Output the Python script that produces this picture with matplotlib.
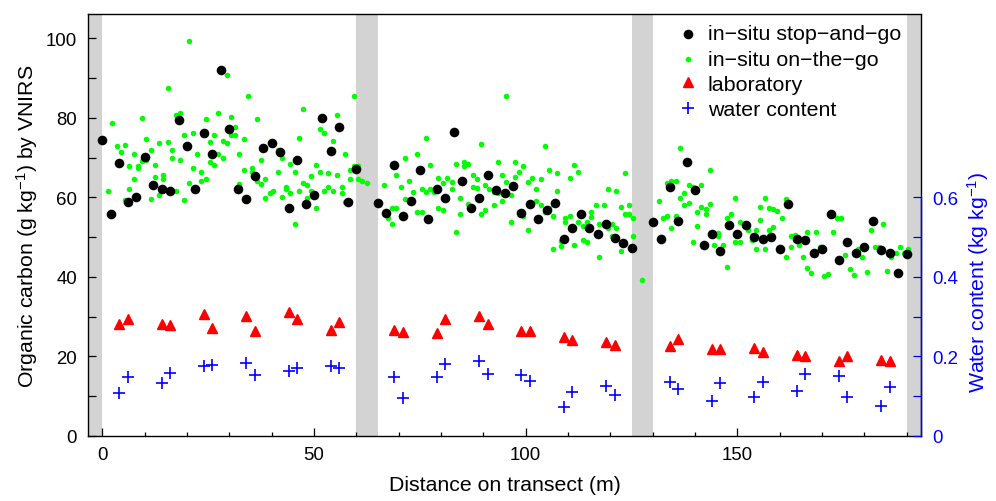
import matplotlib
matplotlib.use("Agg")
import matplotlib.pyplot as plt
from matplotlib.ticker import MultipleLocator, FixedLocator

plt.rcParams['font.family'] = ['Liberation Sans', 'DejaVu Sans']
plt.rcParams['mathtext.fontset'] = 'custom'
plt.rcParams['mathtext.rm'] = 'Liberation Sans'
plt.rcParams['mathtext.it'] = 'Liberation Sans:italic'
plt.rcParams['mathtext.default'] = 'regular'
plt.rcParams['axes.unicode_minus'] = True

# ---- in-situ stop-and-go readings (every 2 m on three transect sections) ----
sg_x = list(range(0, 61, 2)) + list(range(65, 126, 2)) + list(range(130, 191, 2))
sg_y = [74.4, 55.8, 68.6, 58.8, 60.2, 70.1, 63.1, 62.1, 61.6, 79.4, 72.9, 62.1, 76.1, 70.8,
        92.0, 77.2, 62.1, 59.6, 65.3, 72.4, 73.6, 71.4, 57.3, 69.5, 58.3, 60.6, 79.9, 71.6,
        77.6, 58.8, 67.2,
        58.5, 56.0, 68.1, 55.4, 59.0, 66.8, 54.5, 62.2, 59.8, 76.4, 64.1, 57.3, 59.8, 65.7,
        61.8, 61.2, 62.9, 56.0, 58.3, 54.5, 56.7, 58.5, 49.6, 52.4, 55.8, 52.4, 50.7, 53.3,
        49.9, 48.5, 47.2,
        53.7, 49.5, 62.7, 54.0, 68.8, 61.8, 48.1, 50.7, 46.4, 53.0, 50.7, 53.0, 50.1, 49.6,
        50.1, 47.1, 58.3, 49.5, 49.2, 46.0, 47.1, 55.9, 44.2, 48.9, 45.9, 47.6, 54.0, 46.8,
        46.1, 41.1, 45.7]

# ---- in-situ on-the-go readings ----
otg_x = [1.4, 2.4, 3.4, 4.4, 5.4, 5.4, 6.4, 6.4, 7.4, 7.4, 8.4, 8.4, 9.4, 9.4, 10.4, 10.4,
         11.4, 11.4, 12.4, 12.4, 13.4, 13.4, 14.4, 14.4, 15.4, 15.4, 16.4, 16.4, 17.4, 17.4,
         18.4, 18.4, 19.4, 19.4, 20.4, 20.4, 21.4, 21.4, 22.4, 23.4, 23.4, 24.4, 24.4, 25.4,
         25.4, 26.4, 26.4, 27.4, 27.4, 28.4, 28.4, 29.4, 29.4, 30.4, 30.4, 31.4, 31.4, 32.4,
         32.4, 33.4, 33.4, 34.4, 34.4, 35.4, 35.4, 36.5, 36.5, 37.4, 37.4, 38.4, 38.4, 39.5,
         39.5, 40.4, 41.4, 41.4, 42.4, 42.4, 43.4, 43.4, 44.4, 44.4, 45.4, 45.4, 46.5, 46.5,
         47.4, 47.4, 48.4, 48.4, 49.4, 49.4, 50.5, 50.5, 51.4, 51.4, 52.4, 52.4, 53.4, 53.4,
         54.4, 54.4, 55.4, 55.4, 56.5, 56.5, 57.4, 57.4, 58.4, 58.4, 59.5, 59.5, 60.5, 60.5,
         61.4, 62.4,
         66.5, 67.4, 68.4, 68.4, 69.4, 69.4, 70.5, 71.4, 71.4, 72.4, 73.5, 74.4, 74.4, 75.4,
         75.4, 76.4, 76.4, 77.4, 77.4, 78.4, 79.4, 79.4, 80.4, 80.4, 81.4, 82.5, 82.5, 83.5,
         83.5, 84.4, 84.4, 85.4, 85.4, 86.4, 86.4, 87.5, 87.5, 88.4, 88.4, 89.5, 89.5, 90.5,
         90.5, 91.4, 92.4, 92.4, 93.5, 93.5, 94.5, 94.5, 95.4, 95.4, 96.5, 96.5, 97.4, 97.4,
         98.4, 98.4, 99.4, 99.4, 100.5, 100.5, 101.4, 101.4, 102.4, 102.4, 103.5, 103.5,
         104.5, 104.5, 105.4, 105.4, 106.5, 106.5, 107.5, 107.5, 108.4, 108.4, 109.4, 109.4,
         110.5, 110.5, 111.4, 111.4, 112.4, 112.4, 113.5, 113.5, 114.5, 114.5, 115.4, 115.4,
         116.5, 117.4, 117.4, 118.4, 119.4, 119.4, 120.5, 120.5, 121.4, 121.4, 122.4, 122.4,
         123.5, 123.5, 124.5, 124.5, 125.4, 125.4, 127.5,
         131.4, 132.5, 133.4, 133.4, 134.4, 134.4, 135.4, 135.4, 136.5, 136.5, 137.5, 137.5,
         138.5, 138.5, 139.5, 139.5, 140.5, 140.5, 141.4, 141.4, 142.5, 142.5, 143.5, 143.5,
         144.5, 145.5, 145.5, 146.5, 147.5, 147.5, 148.5, 149.5, 149.5, 150.6, 150.6, 151.6,
         152.5, 153.4, 154.4, 154.4, 155.4, 155.4, 156.5, 156.5, 157.4, 157.4, 158.5, 158.5,
         159.4, 160.5, 161.5, 161.5, 162.6, 162.6, 163.5, 164.5, 165.5, 166.5, 166.5, 167.5,
         168.5, 169.5, 170.5, 171.5, 172.5, 173.5, 174.4, 175.4, 176.5, 177.5, 178.4, 179.5,
         180.5, 181.5, 182.4, 183.4, 184.4, 185.4, 186.4, 187.5, 188.4, 189.4, 190.4]
otg_y = [61.6, 78.8, 73.0, 71.5, 73.1, 59.3, 68.0, 62.2, 70.8, 64.7, 67.8, 67.3, 79.9, 69.2,
         74.6, 69.4, 71.8, 59.5, 68.2, 65.2, 73.6, 60.7, 65.6, 64.5, 87.6, 73.8, 72.0, 69.8,
         80.6, 61.6, 81.1, 69.3, 75.8, 59.3, 99.2, 63.7, 76.1, 67.3, 70.8, 66.5, 64.2, 79.6,
         64.7, 73.8, 68.8, 75.8, 68.1, 81.1, 71.0, 74.1, 70.0, 90.7, 73.6, 80.3, 75.6, 77.8,
         75.6, 71.0, 63.3, 74.6, 66.8, 85.6, 59.9, 67.5, 66.3, 79.8, 64.2, 69.5, 63.3, 64.5,
         59.9, 73.8, 61.2, 61.6, 71.8, 66.3, 69.8, 60.2, 62.7, 62.2, 68.5, 61.0, 66.5, 53.4,
         74.8, 61.7, 82.1, 63.6, 63.1, 59.9, 65.4, 61.7, 68.2, 57.4, 77.1, 66.3, 76.3, 61.5,
         66.0, 62.7, 74.1, 61.7, 80.8, 65.6, 62.5, 61.2, 71.0, 58.9, 67.0, 64.7, 85.6, 67.8,
         67.8, 64.7, 64.2, 63.7,
         63.2, 54.7, 53.4, 57.4, 65.7, 57.2, 62.6, 69.8, 59.5, 64.2, 61.4, 71.0, 56.3, 62.2,
         56.4, 74.8, 61.4, 68.1, 62.0, 61.4, 64.9, 57.4, 63.6, 56.9, 64.9, 63.9, 62.0, 68.5,
         51.4, 59.9, 55.7, 68.9, 67.9, 68.5, 58.4, 65.7, 62.6, 64.5, 62.3, 73.3, 55.7, 63.2,
         56.7, 62.2, 61.4, 58.2, 68.8, 61.2, 65.7, 59.2, 85.4, 63.9, 60.7, 53.9, 68.9, 65.2,
         66.5, 56.4, 67.8, 55.2, 63.8, 51.7, 64.9, 58.4, 62.2, 59.1, 64.5, 58.0,
         72.8, 56.2, 66.8, 57.2, 55.2, 46.9, 66.0, 61.7, 49.1, 47.8, 54.7, 53.9,
         64.9, 55.4, 68.2, 47.9, 66.3, 53.7, 52.7, 49.4, 53.9, 48.9, 56.2, 55.0,
         58.0, 45.1, 53.2, 58.0, 62.0, 52.4, 53.4, 50.4, 61.7, 52.4, 57.6, 46.6,
         66.0, 55.7, 58.0, 55.8, 54.7, 50.4, 39.3,
         59.2, 54.7, 55.2, 63.7, 64.2, 52.2, 64.2, 55.3, 72.5, 59.9, 61.2, 58.2,
         63.2, 58.7, 48.7, 62.7, 56.2, 52.7, 63.1, 57.7, 57.0, 55.8, 66.8, 58.4,
         48.1, 51.0, 50.4, 48.1, 42.4, 54.7, 55.7, 59.9, 48.7, 53.9, 48.7, 53.2,
         51.7, 49.3, 51.7, 46.9, 57.5, 54.2, 59.9, 47.1, 57.2, 51.7, 57.0, 52.5,
         56.6, 54.7, 59.5, 45.1, 50.3, 47.5, 50.5, 47.9, 44.9, 42.3, 51.2, 41.1,
         51.2, 47.6, 40.3, 40.8, 51.4, 54.8, 54.7, 45.6, 42.1, 40.6, 47.1, 44.9,
         41.3, 51.7, 47.5, 47.4, 53.4, 41.6, 44.9, 46.1, 47.6, 46.0, 47.1]

# ---- laboratory reference samples and their water content ----
lab_x = [4, 6, 14, 16, 24, 26, 34, 36, 44, 46, 54, 56,
         69, 71, 79, 81, 89, 91, 99, 101, 109, 111, 119, 121,
         134, 136, 144, 146, 154, 156, 164, 166, 174, 176, 184, 186]
lab_y = [28.1, 29.5, 28.1, 27.8, 30.6, 27.2, 30.2, 26.4, 31.2, 29.5, 26.7, 28.7,
         26.6, 26.2, 25.8, 29.4, 30.2, 28.1, 26.4, 26.3, 24.9, 24.1, 23.7, 22.8,
         22.6, 24.3, 21.8, 21.8, 22.2, 21.1, 20.3, 20.1, 18.9, 20.1, 19.1, 18.9]
water = [0.109, 0.148, 0.132, 0.159, 0.175, 0.179, 0.183, 0.154, 0.163, 0.170, 0.175, 0.170,
         0.148, 0.095, 0.148, 0.180, 0.189, 0.157, 0.153, 0.138, 0.074, 0.111, 0.126, 0.103,
         0.136, 0.119, 0.087, 0.134, 0.098, 0.136, 0.112, 0.156, 0.152, 0.097, 0.075, 0.122]

# sections of the transect without measurements
gaps = [(-5, 0), (60, 65), (125, 130), (190, 195)]

FS_TICK = 13.4
FS_LAB = 15.3
FS_LEG = 15.4

fig = plt.figure(figsize=(9.96, 5.02), dpi=100)
ax = fig.add_axes([0.0887, 0.1295, 0.8357, 0.8406])

for a, b in gaps:
    ax.axvspan(a, b, color='#D3D3D3', lw=0, zorder=0)

ax.scatter(otg_x, otg_y, s=16, color='#00FF00', lw=0, zorder=2, label='in\u2212situ on\u2212the\u2212go')
ax.scatter(sg_x, sg_y, s=48, color='black', lw=0, zorder=3, label='in\u2212situ stop\u2212and\u2212go')
ax.plot(lab_x, lab_y, ls='none', marker='^', ms=7.5, color='#FF0000', mec='#FF0000',
        zorder=3, label='laboratory')

ax.set_xlim(-3.3, 193.3)
ax.set_ylim(0, 106.1)
ax.xaxis.set_major_locator(FixedLocator([0, 50, 100, 150]))
ax.xaxis.set_minor_locator(MultipleLocator(10))
ax.yaxis.set_major_locator(MultipleLocator(20))
ax.yaxis.set_minor_locator(MultipleLocator(10))
ax.tick_params(axis='x', which='major', direction='in', length=6, width=0.9,
               labelsize=FS_TICK, pad=7)
ax.tick_params(axis='x', which='minor', direction='in', length=3, width=0.9)
ax.tick_params(axis='y', which='both', direction='in', length=6, width=0.9,
               labelsize=FS_TICK, pad=8)
for s in ax.spines.values():
    s.set_linewidth(1.0)

ax.set_xlabel('Distance on transect (m)', fontsize=FS_LAB, labelpad=9)
ax.set_ylabel('Organic carbon (g kg$^{-1}$) by VNIRS', fontsize=FS_LAB, labelpad=4)

# water content on the secondary axis
ax2 = ax.twinx()
ax2.plot(lab_x, water, ls='none', marker='+', ms=9, mew=1.2, color='#0000FF',
         zorder=3, label='water content')
ax2.set_ylim(0, 1.061)
ax2.yaxis.set_major_locator(FixedLocator([0, 0.2, 0.4, 0.6]))
ax2.yaxis.set_minor_locator(FixedLocator([0.1, 0.3, 0.5]))
ax2.tick_params(axis='y', which='both', direction='in', length=6, width=0.9,
                colors='#0000FF', labelsize=FS_TICK, pad=8)
ax2.yaxis.set_major_formatter(plt.FuncFormatter(lambda v, p: '0' if v == 0 else f'{v:.1f}'))
for side in ('left', 'top', 'bottom'):
    ax2.spines[side].set_visible(False)
ax2.spines['right'].set_color('#0000FF')
ax2.spines['right'].set_bounds(0, 0.6)
ax2.spines['right'].set_linewidth(1.0)
ax2.text(1.069, 0.39 / 1.061, 'Water content (kg kg$^{-1}$)', color='#0000FF',
         fontsize=FS_LAB, rotation=90, ha='center', va='center', transform=ax2.transAxes)

h1, l1 = ax.get_legend_handles_labels()
h2, l2 = ax2.get_legend_handles_labels()
order = [1, 0, 2]
handles = [h1[i] for i in order] + h2
labels = [l1[i] for i in order] + l2
ax2.legend(handles, labels, loc='upper left', bbox_to_anchor=(0.7105, 0.976),
           frameon=False, fontsize=FS_LEG, handlelength=0.8, handletextpad=0.5,
           labelspacing=0.3, borderpad=0, borderaxespad=0)

fig.savefig('out.png', dpi=100)
